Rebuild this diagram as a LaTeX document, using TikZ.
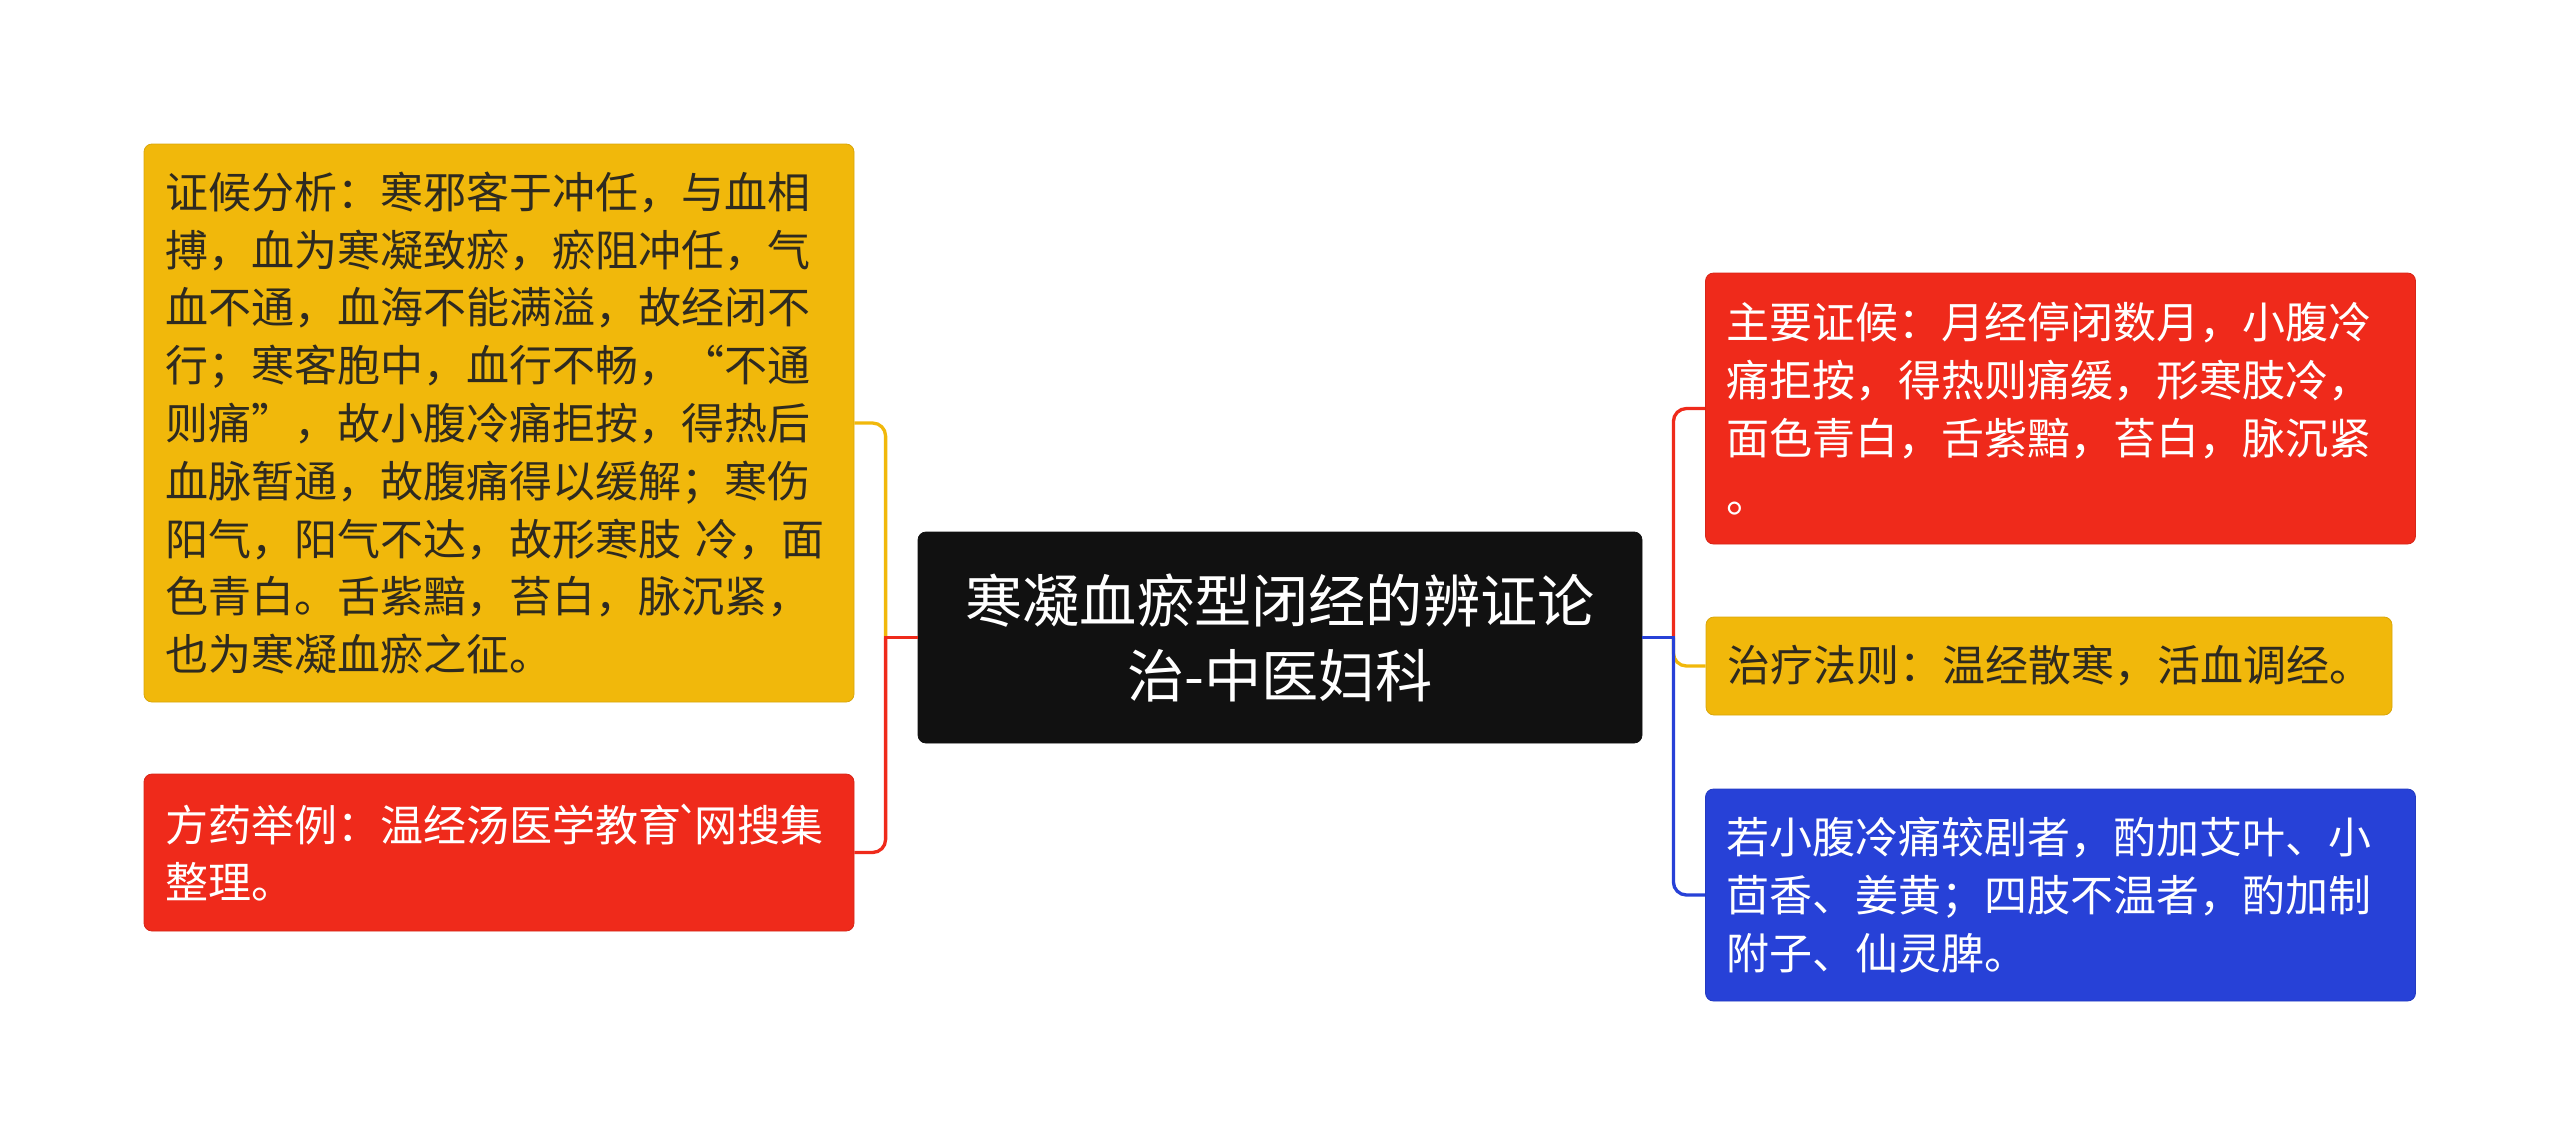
\documentclass[tikz,border=0pt]{standalone}
\usepackage{fontspec}
\newfontfamily\cjk{Noto Sans CJK SC}
\usetikzlibrary{calc}
\definecolor{ink}{HTML}{111111}
\definecolor{note}{HTML}{2E2A20}
\definecolor{gold}{HTML}{F1B80B}
\definecolor{flame}{HTML}{EF2A1B}
\definecolor{royal}{HTML}{2741D7}
\newcommand\leaffont{\cjk\fontsize{21.5}{28.9}\selectfont}
\newcommand\rootfont{\cjk\fontsize{28.6}{37.5}\selectfont}
\tikzset{rootbox/.style={fill=ink,draw=ink,rounded corners=4pt,text=white,font=\rootfont,align=center,minimum width=362pt,minimum height=105.5pt,inner sep=0pt},leaf/.style={rounded corners=4pt,inner xsep=10.5pt,inner ysep=0pt,text width=334pt,align=left,font=\leaffont,minimum height=#1},goldleaf/.style={leaf=#1,fill=gold,draw=gold!90!black,line width=.4pt,text=note},redleaf/.style={leaf=#1,fill=flame,draw=flame!90!black,line width=.4pt,text=white},blueleaf/.style={leaf=#1,fill=royal,draw=royal!90!black,line width=.4pt,text=white},link/.style={line width=1.65pt},elbow/.style={link,rounded corners=6.5pt}}

\begin{document}
\begin{tikzpicture}[x=.5pt,y=-.5pt]
\useasboundingbox (0,0) rectangle (2560,1146);
\node[rootbox] (root) at (1280,637.5) {寒凝血瘀型闭经的辨证论\\治-中医妇科};
\node[goldleaf=279pt] (analysis) at (499,423) {证候分析：寒邪客于冲任，与血相\\搏，血为寒凝致瘀，瘀阻冲任，气\\血不通，血海不能满溢，故经闭不\\行；寒客胞中，血行不畅，“不通\\则痛”，故小腹冷痛拒按，得热后\\血脉暂通，故腹痛得以缓解；寒伤\\阳气，阳气不达，故形寒肢 冷，面\\色青白。舌紫黯，苔白，脉沉紧，\\也为寒凝血瘀之征。};
\node[redleaf=78.5pt] (recipe) at (499,852.5) {方药举例：温经汤医学教育\kern-3pt`\kern-3.5pt网搜集\\整理。};
\node[redleaf=135.5pt] (signs) at (2060.5,408.5) {主要证候：月经停闭数月，小腹冷\\痛拒按，得热则痛缓，形寒肢冷，\\面色青白，舌紫黯，苔白，脉沉紧\\。};
\node[goldleaf=49pt,text width=322pt] (rule) at (2049,666) {治疗法则：温经散寒，活血调经。};
\node[blueleaf=106pt] (extra) at (2060.5,895) {若小腹冷痛较剧者，酌加艾叶、小\\茴香、姜黄；四肢不温者，酌加制\\附子、仙灵脾。};
\coordinate (lj) at ($(root.west)+(-32,0)$);
\coordinate (rj) at ($(root.east)+(31,0)$);
\draw[elbow,gold] (lj) |- (analysis.east);
\draw[elbow,flame] (lj) |- (recipe.east);
\draw[link,flame] (root.west) -- ($(lj)+(-1.65,0)$);
\draw[elbow,flame] (rj) |- (signs.west);
\draw[elbow,gold] (rj) |- (rule.west);
\draw[elbow,royal] (rj) |- (extra.west);
\draw[link,royal] (root.east) -- ($(rj)+(1.65,0)$);
\end{tikzpicture}
\end{document}
